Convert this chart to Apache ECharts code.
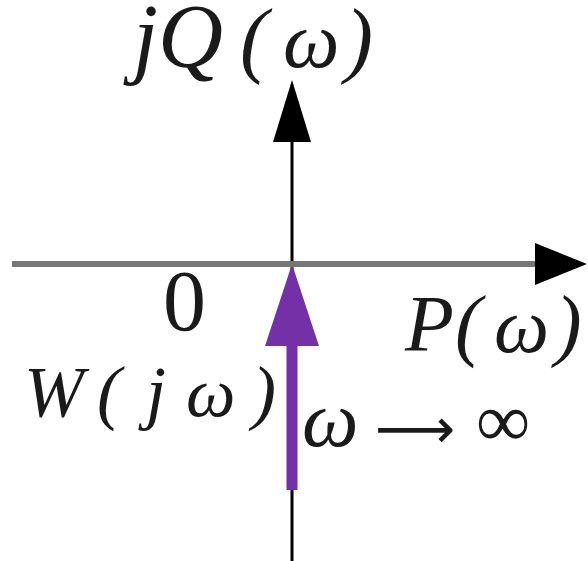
<!DOCTYPE html>
<html>
<head>
<meta charset="utf-8">
<script src="https://cdn.jsdelivr.net/npm/echarts@6/dist/echarts.min.js"></script>
<style>
  html, body { margin: 0; padding: 0; background: #ffffff; }
  #chart { width: 588px; height: 561px; }
</style>
</head>
<body>
<div id="chart"></div>
<script>
// Complex plane: real part P(ω) horizontally, imaginary part jQ(ω) vertically.
// Each arrow is [xStart, yStart, xEnd, yEnd] in plane units.
const realAxis = [[-2.80, 0, 2.95, 0]];
const imagAxis = [[0, -2.98, 0, 1.84]];
// W(jω) runs up the negative imaginary axis into the origin as ω → ∞
const nyquistTrace = [[0, -2.26, 0, 0]];

// Labels, split into glyph runs: [text, fontSize, left, italic]
const labelImag = { baseline: 74, runs: [['jQ', 90, 133, true], ['(', 84, 240, true], ['ω', 80, 283, true], [')', 84, 345, true]] };
const labelOrigin = { baseline: 337, runs: [['0', 86, 163, false]] };
const labelReal = { baseline: 358, runs: [['P', 80, 405, true], ['(', 80, 455, true], ['ω', 78, 494, true], [')', 80, 555, true]] };
const labelTrace = { baseline: 422, runs: [['W', 72, 24, true], ['(', 72, 97, true], ['j', 72, 146, true], ['ω', 70, 186, true], [')', 72, 252, true]] };
const labelLimit = { baseline: 453, runs: [['ω', 80, 302, true], ['⟶', 56, 375, false], ['∞', 76, 476, false]] };

function arrowRenderer(opts) {
  return function (params, api) {
    const p0 = api.coord([api.value(0), api.value(1)]);
    const p1 = api.coord([api.value(2), api.value(3)]);
    const dx = p1[0] - p0[0], dy = p1[1] - p0[1];
    const len = Math.sqrt(dx * dx + dy * dy);
    const ux = dx / len, uy = dy / len;
    const nx = -uy, ny = ux;
    const bx = p1[0] - ux * opts.headLen, by = p1[1] - uy * opts.headLen;
    return {
      type: 'group',
      children: [
        {
          type: 'line',
          shape: { x1: p0[0], y1: p0[1], x2: bx + ux * 2, y2: by + uy * 2 },
          style: { stroke: opts.lineColor, lineWidth: opts.lineWidth }
        },
        {
          type: 'polygon',
          shape: {
            points: [
              [p1[0], p1[1]],
              [bx + nx * opts.headHalf, by + ny * opts.headHalf],
              [bx - nx * opts.headHalf, by - ny * opts.headHalf]
            ]
          },
          style: { fill: opts.headColor }
        }
      ]
    };
  };
}

// Turn a label into text elements sitting on a shared baseline
function labelGraphics(label) {
  return label.runs.map(function (r) {
    const size = r[1];
    const family = r[0] === '⟶' ? '"DejaVu Sans", sans-serif' : '"Liberation Serif", "DejaVu Serif", serif';
    return {
      type: 'text',
      left: r[2],
      top: Math.round(label.baseline - 0.85 * size),
      style: {
        text: r[0],
        font: (r[3] ? 'italic ' : '') + size + 'px ' + family,
        fill: '#1a1a1a'
      }
    };
  });
}

const chart = echarts.init(document.getElementById('chart'));
chart.setOption({
  backgroundColor: '#ffffff',
  animation: false,
  grid: { left: 0, right: 0, top: 0, bottom: 0 },
  xAxis: { type: 'value', min: -2.92, max: 2.96, show: false },
  yAxis: { type: 'value', min: -2.97, max: 2.64, show: false },
  series: [
    {
      type: 'custom',
      data: imagAxis,
      renderItem: arrowRenderer({ lineColor: '#000000', lineWidth: 3, headColor: '#000000', headLen: 62, headHalf: 19 }),
      z: 1
    },
    {
      type: 'custom',
      data: nyquistTrace,
      renderItem: arrowRenderer({ lineColor: '#7430a6', lineWidth: 11, headColor: '#7430a6', headLen: 82, headHalf: 27 }),
      z: 2
    },
    {
      type: 'custom',
      data: realAxis,
      renderItem: arrowRenderer({ lineColor: '#777777', lineWidth: 6, headColor: '#000000', headLen: 52, headHalf: 21 }),
      z: 3
    }
  ],
  graphic: [].concat(
    labelGraphics(labelImag),
    labelGraphics(labelOrigin),
    labelGraphics(labelReal),
    labelGraphics(labelTrace),
    labelGraphics(labelLimit)
  )
});
</script>
</body>
</html>
